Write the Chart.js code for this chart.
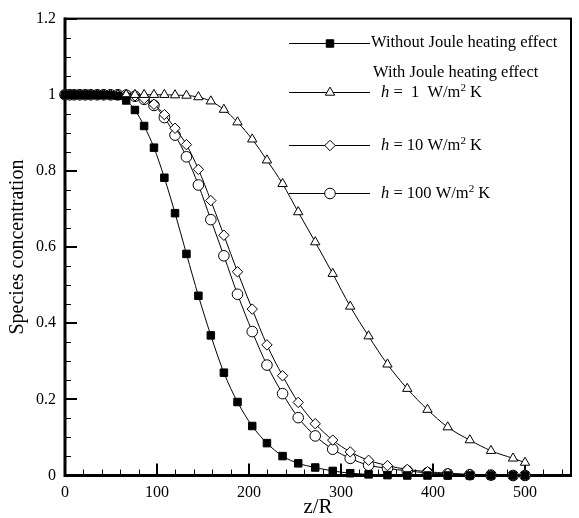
<!DOCTYPE html>
<html>
<head>
<meta charset="utf-8">
<script src="https://cdn.jsdelivr.net/npm/chart.js@4/dist/chart.umd.min.js"></script>
<style>
  html, body { margin: 0; padding: 0; background: #fff; }
  #wrap { width: 579px; height: 518px; position: relative; }
</style>
</head>
<body>
<div id="wrap"><canvas id="speciesChart"></canvas></div>
<script>
// axial position z/R (same grid for every curve)
const zGrid = [0, 5, 10, 16, 22, 28, 35, 42, 49.5, 57.5, 66.5, 76, 86, 96.7, 108, 119.6, 132, 145, 158.5, 172.7,
  187.5, 203.5, 219.5, 236.5, 253.5, 272, 291, 310, 330, 350.5, 372, 394, 416, 440, 463, 487, 500];

// species concentration for each case
const noJoule = [1, 1, 1, 1, 1, 1, 1, 1, 0.999, 0.997, 0.985, 0.96, 0.918, 0.861, 0.782, 0.689, 0.582, 0.472, 0.368, 0.270,
  0.193, 0.130, 0.085, 0.051, 0.032, 0.021, 0.012, 0.006, 0.003, 0.001, 0, 0, 0, 0, 0, 0, 0];
const h1 = [1, 1, 1, 1, 1, 1, 1, 1, 1, 1, 1, 1, 1, 1, 1, 0.999, 0.998, 0.994, 0.983, 0.961,
  0.928, 0.883, 0.828, 0.766, 0.692, 0.613, 0.530, 0.444, 0.366, 0.292, 0.228, 0.173, 0.127, 0.093, 0.065, 0.045, 0.034];
const h10 = [1, 1, 1, 1, 1, 1, 1, 1, 1, 1, 0.999, 0.997, 0.99, 0.975, 0.948, 0.912, 0.869, 0.804, 0.722, 0.631,
  0.535, 0.437, 0.343, 0.262, 0.192, 0.136, 0.093, 0.062, 0.040, 0.026, 0.016, 0.010, 0.006, 0.003, 0.001, 0, 0];
const h100 = [1, 1, 1, 1, 1, 1, 1, 1, 1, 1, 0.999, 0.996, 0.988, 0.972, 0.94, 0.894, 0.837, 0.763, 0.672, 0.577,
  0.476, 0.378, 0.290, 0.215, 0.152, 0.104, 0.069, 0.045, 0.027, 0.019, 0.012, 0.007, 0.004, 0.002, 0.001, 0, 0];

// axis ticks
const xTicks = [0, 100, 200, 300, 400, 500];
const yTicks = [0, 0.2, 0.4, 0.6, 0.8, 1, 1.2];
const yTickLabels = ["0", "0.2", "0.4", "0.6", "0.8", "1", "1.2"];
const xMinorTicks = [20, 40, 60, 80, 120, 140, 160, 180, 220, 240, 260, 280, 320, 340, 360, 380, 420, 440, 460, 480, 520, 540];
const yMinorTicks = [0.05, 0.1, 0.15, 0.25, 0.3, 0.35, 0.45, 0.5, 0.55, 0.65, 0.7, 0.75, 0.85, 0.9, 0.95, 1.05, 1.1, 1.15];

const SERIF = "'Liberation Serif', 'Times New Roman', serif";

const toPoints = (ys) => zGrid.map((z, i) => ({ x: z, y: ys[i] }));

const seriesStyle = [
  { label: "Without Joule heating effect", data: noJoule, pointStyle: "rect", radius: 5.3, fill: "#000" },
  { label: "h = 1 W/m2 K", data: h1, pointStyle: "triangle", radius: 5.4, fill: "#fff" },
  { label: "h = 10 W/m2 K", data: h10, pointStyle: "rectRot", radius: 5.2, fill: "#fff" },
  { label: "h = 100 W/m2 K", data: h100, pointStyle: "circle", radius: 5.3, fill: "#fff" },
];

// inward ticks and the box round the plot
const framePlugin = {
  id: "frame",
  beforeDatasetsDraw(chart) {
    const { ctx, chartArea: a, scales: { x, y } } = chart;
    ctx.save();
    ctx.strokeStyle = "#000";
    ctx.lineWidth = 1;
    ctx.beginPath();
    xMinorTicks.forEach((v) => {
      const px = Math.round(x.getPixelForValue(v)) + 0.5;
      ctx.moveTo(px, a.bottom); ctx.lineTo(px, a.bottom - 6);
    });
    yMinorTicks.forEach((v) => {
      const py = Math.round(y.getPixelForValue(v)) + 0.5;
      ctx.moveTo(a.left, py); ctx.lineTo(a.left + 6, py);
    });
    ctx.stroke();
    ctx.lineWidth = 2;
    ctx.beginPath();
    xTicks.forEach((v) => {
      const px = Math.round(x.getPixelForValue(v));
      ctx.moveTo(px, a.bottom); ctx.lineTo(px, a.bottom - 12);
    });
    yTicks.forEach((v) => {
      const py = Math.round(y.getPixelForValue(v));
      ctx.moveTo(a.left, py); ctx.lineTo(a.left + 12, py);
    });
    ctx.stroke();
    // frame
    ctx.lineWidth = 2;
    ctx.strokeRect(a.left, a.top, a.right - a.left, a.bottom - a.top);
    ctx.lineWidth = 3;
    ctx.beginPath();
    ctx.moveTo(a.left, a.top - 1); ctx.lineTo(a.left, a.bottom); ctx.lineTo(a.right + 1, a.bottom);
    ctx.stroke();
    ctx.restore();
  },
};

// legend drawn inside the plot, the way the original figure has it
const legendPlugin = {
  id: "figLegend",
  afterDraw(chart) {
    const ctx = chart.ctx;
    const rows = [
      { s: seriesStyle[0], y: 43 },
      { s: seriesStyle[1], y: 92, h: " =  1  W/m" },
      { s: seriesStyle[2], y: 145, h: " = 10 W/m" },
      { s: seriesStyle[3], y: 193, h: " = 100 W/m" },
    ];
    ctx.save();
    ctx.strokeStyle = "#000";
    ctx.textBaseline = "middle";
    rows.forEach((r) => {
      ctx.lineWidth = 1;
      ctx.beginPath();
      ctx.moveTo(289, r.y + 0.5); ctx.lineTo(370, r.y + 0.5);
      ctx.stroke();
      ctx.fillStyle = r.s.fill;
      Chart.helpers.drawPoint(ctx, { pointStyle: r.s.pointStyle, radius: r.s.radius, borderWidth: 1, rotation: 0 }, 330, r.y + 0.5);
      ctx.fillStyle = "#000";
      if (!r.h) {
        ctx.font = "16.5px " + SERIF;
        ctx.fillText(r.s.label, 371, r.y);
        return;
      }
      let tx = 381;
      ctx.font = "italic 16.5px " + SERIF;
      ctx.fillText("h", tx, r.y + 1);
      tx += ctx.measureText("h").width;
      ctx.font = "16.5px " + SERIF;
      ctx.fillText(r.h, tx, r.y + 1);
      tx += ctx.measureText(r.h).width;
      ctx.font = "11px " + SERIF;
      ctx.fillText("2", tx, r.y - 4);
      tx += ctx.measureText("2").width;
      ctx.font = "16.5px " + SERIF;
      ctx.fillText(" K", tx, r.y + 1);
    });
    ctx.font = "16.5px " + SERIF;
    ctx.fillText("With Joule heating effect", 373, 73);
    ctx.restore();
  },
};

const datasets = seriesStyle.map((s) => ({
  label: s.label,
  data: toPoints(s.data),
  borderColor: "#000",
  borderWidth: 1,
  pointStyle: s.pointStyle,
  pointRadius: s.radius,
  pointBorderWidth: 1,
  pointBorderColor: "#000",
  pointBackgroundColor: s.fill,
  cubicInterpolationMode: "monotone",
  clip: false,
  fill: false,
}));

new Chart(document.getElementById("speciesChart"), {
  type: "line",
  data: { datasets },
  plugins: [framePlugin, legendPlugin],
  options: {
    responsive: true,
    maintainAspectRatio: false,
    animation: false,
    layout: { padding: { top: 15, right: 8, left: 0, bottom: 0 } },
    plugins: { legend: { display: false }, tooltip: { enabled: false } },
    scales: {
      x: {
        type: "linear",
        min: 0,
        max: 550,
        afterBuildTicks: (scale) => { scale.ticks = xTicks.map((v) => ({ value: v })); },
        afterFit: (scale) => { scale.height = 42.5; },
        grid: { display: false, drawTicks: false },
        border: { display: false },
        ticks: { padding: 8, color: "#000", font: { family: SERIF, size: 16 }, maxRotation: 0 },
        title: { display: true, text: "z/R", color: "#000", font: { family: SERIF, size: 21, lineHeight: 1 }, padding: 0 },
      },
      y: {
        type: "linear",
        min: 0,
        max: 1.2,
        afterBuildTicks: (scale) => { scale.ticks = yTicks.map((v) => ({ value: v })); },
        afterFit: (scale) => { scale.width = 65; },
        grid: { display: false, drawTicks: false },
        border: { display: false },
        ticks: {
          padding: 9,
          color: "#000",
          font: { family: SERIF, size: 16 },
          callback: (value) => yTickLabels[yTicks.indexOf(value)] ?? "",
        },
        title: { display: true, text: "Species concentration", color: "#000", font: { family: SERIF, size: 20, lineHeight: 1 }, padding: { top: 8, bottom: 0 } },
      },
    },
  },
});
</script>
</body>
</html>
